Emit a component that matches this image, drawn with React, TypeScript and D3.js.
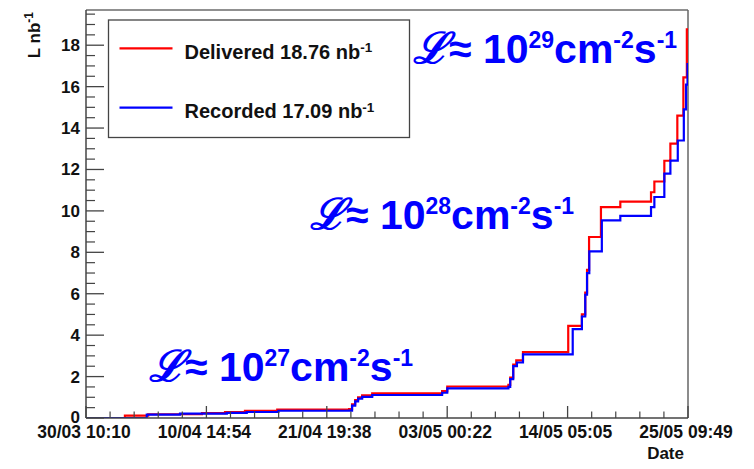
import React from "react";
import * as d3 from "d3";

const WIDTH = 754;
const HEIGHT = 469;
const PLOT = { left: 86, right: 688, top: 10, bottom: 418 };

const xStart = "2010-03-30T10:10";
const xEnd = "2010-05-25T09:49";
const xTickLabels = ["30/03 10:10", "10/04 14:54", "21/04 19:38", "03/05 00:22", "14/05 05:05", "25/05 09:49"];
const yMax = 19.7;
const yTickValues = [0, 2, 4, 6, 8, 10, 12, 14, 16, 18];

const deliveredTimes = [
  "2010-03-30T10:10", "2010-04-03T01:00", "2010-04-05T05:00", "2010-04-10T05:00", "2010-04-12T08:30",
  "2010-04-14T05:00", "2010-04-17T05:00", "2010-04-23T21:30", "2010-04-24T04:00", "2010-04-24T11:00",
  "2010-04-24T17:30", "2010-04-25T02:30", "2010-04-26T01:00", "2010-05-02T13:00", "2010-05-03T00:30",
  "2010-05-08T17:00", "2010-05-08T21:00", "2010-05-09T03:45", "2010-05-09T10:30", "2010-05-10T01:30",
  "2010-05-14T06:30", "2010-05-15T13:00", "2010-05-15T20:30", "2010-05-16T00:30", "2010-05-16T05:00",
  "2010-05-17T07:30", "2010-05-19T02:45", "2010-05-21T23:15", "2010-05-22T06:45", "2010-05-23T05:00",
  "2010-05-23T18:30", "2010-05-24T10:00", "2010-05-24T23:30", "2010-05-25T07:15", "2010-05-25T09:49",
];
const deliveredValues = [
  0, 0.11, 0.18, 0.24, 0.29,
  0.34, 0.41, 0.43, 0.66, 0.87,
  1.0, 1.09, 1.19, 1.3, 1.52,
  1.6, 1.95, 2.58, 2.78, 3.18,
  4.45, 5.0, 6.05, 7.15, 8.74,
  10.18, 10.45, 10.9, 11.42, 12.42,
  13.25, 14.6, 16.45, 18.76, 18.76,
];

const recordedTimes = [
  "2010-03-30T10:10", "2010-04-05T01:45", "2010-04-08T04:00", "2010-04-12T12:30", "2010-04-14T09:00",
  "2010-04-17T07:30", "2010-04-23T21:30", "2010-04-24T04:00", "2010-04-24T11:00", "2010-04-24T17:30",
  "2010-04-25T02:30", "2010-04-26T01:00", "2010-05-02T13:00", "2010-05-03T00:30", "2010-05-08T17:00",
  "2010-05-08T21:00", "2010-05-09T03:45", "2010-05-09T12:00", "2010-05-10T01:30", "2010-05-14T16:30",
  "2010-05-15T13:00", "2010-05-15T20:30", "2010-05-16T00:30", "2010-05-16T05:30", "2010-05-17T09:30",
  "2010-05-19T02:45", "2010-05-21T23:15", "2010-05-22T06:45", "2010-05-23T05:00", "2010-05-23T18:30",
  "2010-05-24T11:00", "2010-05-25T00:30", "2010-05-25T05:30", "2010-05-25T08:45", "2010-05-25T09:49",
];
const recordedValues = [
  0, 0.16, 0.21, 0.25, 0.29,
  0.35, 0.36, 0.6, 0.8, 0.94,
  1.02, 1.11, 1.22, 1.43, 1.5,
  1.88, 2.5, 2.68, 3.07, 4.29,
  4.9, 5.95, 7.0, 8.05, 9.54,
  9.76, 10.18, 10.67, 11.8, 12.43,
  13.4, 14.9, 16.1, 17.09, 17.09,
];

const legendLabels = ["Delivered 18.76 nb", "Recorded 17.09 nb"];
const seriesColors = ["#ff0000", "#0000ff"];
const lumiExponents = ["29", "28", "27"];

const FONT = "'Liberation Sans', Arial, Helvetica, sans-serif";
const parse = d3.utcParse("%Y-%m-%dT%H:%M");

function Lumi({ x, y, exp }: { x: number; y: number; exp: string }) {
  const sup = 23;
  const up = 15;
  return (
    <text x={x} y={y} fill="#0000ff" fontFamily={FONT} fontWeight="bold" fontSize={41}>
      <tspan fontFamily="'DejaVu Serif', serif" fontStyle="italic" fontWeight="bold" fontSize={43}>ℒ</tspan>
      <tspan>≈ 10</tspan>
      <tspan fontSize={sup} dy={-up}>{exp}</tspan>
      <tspan dy={up}>cm</tspan>
      <tspan fontSize={sup} dy={-up}>-2</tspan>
      <tspan dy={up}>s</tspan>
      <tspan fontSize={sup} dy={-up}>-1</tspan>
    </text>
  );
}

export default function App() {
  const t0 = parse(xStart)!;
  const t1 = parse(xEnd)!;
  const x = d3.scaleUtc().domain([t0, t1]).range([PLOT.left, PLOT.right]);
  const y = d3.scaleLinear().domain([0, yMax]).range([PLOT.bottom, PLOT.top]);

  const span = t1.getTime() - t0.getTime();
  const majorX = xTickLabels.map((_, i) => new Date(t0.getTime() + (span * i) / (xTickLabels.length - 1)));
  const nMinor = (xTickLabels.length - 1) * 5;
  const minorX = d3.range(1, nMinor).filter((i) => i % 5 !== 0).map((i) => new Date(t0.getTime() + (span * i) / nMinor));
  const minorY = d3.range(0, yMax, 0.5).filter((v) => v % 2 !== 0);

  const line = d3
    .line<[Date, number]>()
    .x((d) => x(d[0]))
    .y((d) => y(d[1]))
    .curve(d3.curveStepAfter);

  const delivered: [Date, number][] = deliveredTimes.map((t, i) => [parse(t)!, deliveredValues[i]]);
  const recorded: [Date, number][] = recordedTimes.map((t, i) => [parse(t)!, recordedValues[i]]);

  return (
    <svg width={WIDTH} height={HEIGHT} style={{ position: "absolute", left: 0, top: 0, background: "#fff" }}>
      <rect x={0} y={0} width={WIDTH} height={HEIGHT} fill="#fff" />
      <defs>
        <clipPath id="plotclip">
          <rect x={PLOT.left} y={PLOT.top} width={PLOT.right - PLOT.left} height={PLOT.bottom - PLOT.top} />
        </clipPath>
      </defs>

      {/* frame */}
      <line x1={PLOT.left} x2={PLOT.right} y1={PLOT.top} y2={PLOT.top} stroke="#222" strokeWidth={1.2} />
      <line x1={PLOT.right} x2={PLOT.right} y1={PLOT.top} y2={PLOT.bottom} stroke="#666" strokeWidth={1.5} />

      {/* curves */}
      <g clipPath="url(#plotclip)" fill="none" strokeWidth={2.2}>
        <path d={line(delivered) ?? ""} stroke={seriesColors[0]} />
        <path d={line(recorded) ?? ""} stroke={seriesColors[1]} />
      </g>

      {/* y axis */}
      <line x1={PLOT.left} x2={PLOT.left} y1={PLOT.top} y2={PLOT.bottom} stroke="#444" strokeWidth={1.5} />
      {yTickValues.map((v) => (
        <g key={"yt" + v}>
          <line x1={PLOT.left} x2={PLOT.left + 18} y1={y(v)} y2={y(v)} stroke="#444" strokeWidth={1.3} />
          <text x={80} y={y(v) + (v === 0 ? 4.5 : 6)} textAnchor="end" fontFamily={FONT} fontWeight="bold" fontSize={17} fill="#111">
            {v}
          </text>
        </g>
      ))}
      {minorY.map((v) => (
        <line key={"ym" + v} x1={PLOT.left} x2={PLOT.left + 9} y1={y(v)} y2={y(v)} stroke="#444" strokeWidth={1.2} />
      ))}
      <text
        transform={`translate(40,12) rotate(-90)`}
        textAnchor="end"
        fontFamily={FONT}
        fontWeight="bold"
        fontSize={17}
        fill="#111"
      >
        <tspan>L nb</tspan>
        <tspan fontSize={12} dy={-7}>-1</tspan>
      </text>

      {/* x axis */}
      <line x1={PLOT.left} x2={PLOT.right} y1={PLOT.bottom} y2={PLOT.bottom} stroke="#444" strokeWidth={1.5} />
      {majorX.map((d, i) => (
        <g key={"xt" + i}>
          <line x1={x(d)} x2={x(d)} y1={PLOT.bottom} y2={PLOT.bottom - 12} stroke="#444" strokeWidth={1.3} />
          <text x={x(d) - 2} y={438} textAnchor="middle" fontFamily={FONT} fontWeight="bold" fontSize={17.5} fill="#111">
            {xTickLabels[i]}
          </text>
        </g>
      ))}
      {minorX.map((d, i) => (
        <line key={"xm" + i} x1={x(d)} x2={x(d)} y1={PLOT.bottom} y2={PLOT.bottom - 6.5} stroke="#444" strokeWidth={1.2} />
      ))}
      <text x={684} y={458.5} textAnchor="end" fontFamily={FONT} fontWeight="bold" fontSize={17} fill="#111">
        Date
      </text>

      {/* legend */}
      <rect x={108.5} y={20} width={301} height={117.5} fill="#fff" stroke="#444" strokeWidth={1.3} />
      {legendLabels.map((lab, i) => {
        const ly = i === 0 ? 48.3 : 107.7;
        return (
          <g key={"lg" + i}>
            <line x1={119.5} x2={172.5} y1={ly} y2={ly} stroke={seriesColors[i]} strokeWidth={2.2} />
            <text x={184.5} y={ly + 10.5} fontFamily={FONT} fontWeight="bold" fontSize={20} fill="#111">
              <tspan>{lab}</tspan>
              <tspan fontSize={13.5} dy={-6.5}>-1</tspan>
            </text>
          </g>
        );
      })}

      {/* annotations */}
      <Lumi x={413} y={63} exp={lumiExponents[0]} />
      <Lumi x={310} y={229} exp={lumiExponents[1]} />
      <Lumi x={149} y={381} exp={lumiExponents[2]} />
    </svg>
  );
}
